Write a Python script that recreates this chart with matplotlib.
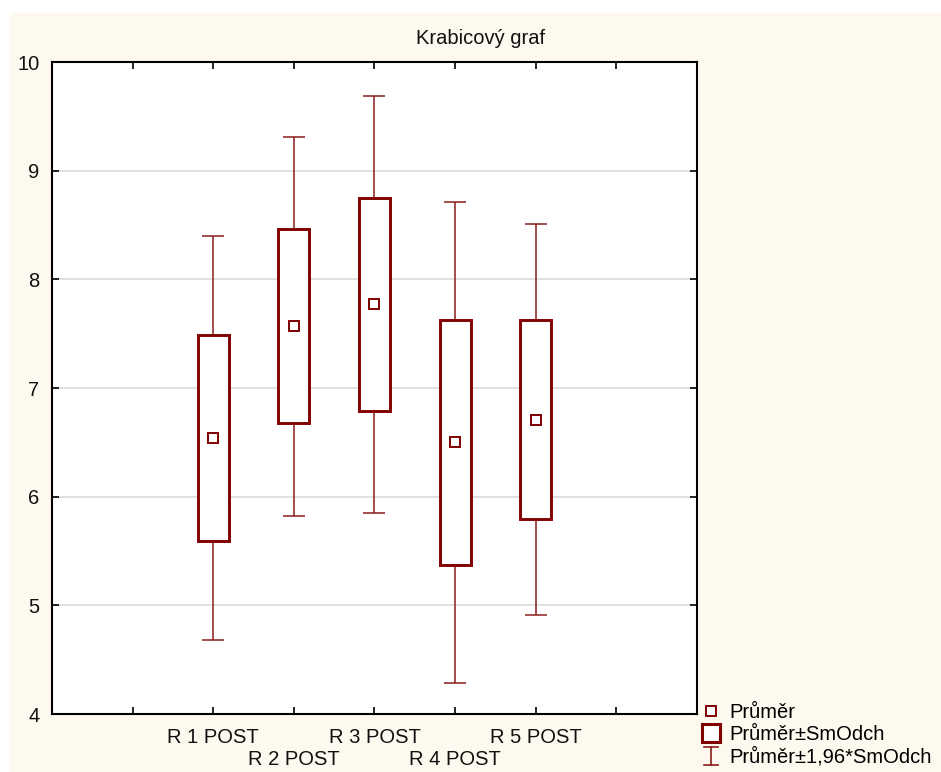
import numpy as np
import matplotlib
matplotlib.use('Agg')
import matplotlib.pyplot as plt
from matplotlib.lines import Line2D
from matplotlib.patches import Rectangle
from matplotlib.legend_handler import HandlerBase

plt.rcParams['font.family'] = ['Liberation Sans', 'DejaVu Sans']

# data
categories = ['R 1 POST', 'R 2 POST', 'R 3 POST', 'R 4 POST', 'R 5 POST']
means = np.array([6.54, 7.57, 7.77, 6.50, 6.71])
sds = np.array([0.95, 0.89, 0.98, 1.13, 0.92])
yticks = [4, 5, 6, 7, 8, 9, 10]

dark_red = '#800000'
whisk_red = '#8B1C1C'
x = np.arange(1, len(categories) + 1)


class HandlerIBar(HandlerBase):
    # vertical bar with caps, like the "I" symbol in the legend
    def create_artists(self, legend, orig_handle, xdescent, ydescent,
                       width, height, fontsize, trans):
        cx = width / 2 - xdescent
        cy = height / 2 - ydescent
        half = 6.5
        cap = 5.2
        kw = dict(color=whisk_red, lw=1.2, transform=trans)
        return [Line2D([cx, cx], [cy - half, cy + half], **kw),
                Line2D([cx - cap, cx + cap], [cy + half, cy + half], **kw),
                Line2D([cx - cap, cx + cap], [cy - half, cy - half], **kw)]


fig = plt.figure(figsize=(9.41, 7.72), dpi=100, facecolor='white')
# cream panel behind everything
fig.patches.append(Rectangle((10 / 941, 0), 1, 1 - 13 / 772, transform=fig.transFigure,
                             facecolor='#FEF9EE', edgecolor='none', zorder=-10))

ax = fig.add_axes([52 / 941, 58 / 772, 645 / 941, 652 / 772])
ax.set_zorder(1)
ax.set_facecolor('white')

# whiskers: mean +/- 1.96*SD
ax.errorbar(x, means, yerr=1.96 * sds, fmt='none', ecolor=whisk_red,
            elinewidth=1.1, capsize=8, capthick=1.1, zorder=2)
# boxes: mean +/- SD
ax.bar(x, 2 * sds, bottom=means - sds, width=0.385, color='white',
       edgecolor=dark_red, linewidth=2.1, zorder=3)
# means
ax.plot(x, means, ls='none', marker='s', ms=7.5, mfc='white', mec=dark_red,
        mew=1.4, zorder=4)

ax.set_xlim(-1, 7)
ax.set_ylim(4, 10)
ax.set_yticks(yticks)
ax.set_yticklabels([str(t) for t in yticks])
# labels alternate between two rows: odd categories on major ticks, even on minor
ax.xaxis.remove_overlapping_locs = False
ax.set_xticks([0, 1, 2, 3, 4, 5, 6])
ax.set_xticklabels(['', categories[0], '', categories[2], '', categories[4], ''])
ax.set_xticks([2, 4], minor=True)
ax.set_xticklabels([categories[1], categories[3]], minor=True)

for t in yticks[1:-1]:
    ax.axhline(t, color='#DADADA', lw=1.2, zorder=1)

ax.tick_params(axis='both', which='both', direction='in', length=5, width=1.2,
               color='black', top=True, right=True, labelsize=14.5,
               labelcolor='#111111')
ax.tick_params(axis='y', pad=9)
ax.tick_params(axis='x', which='major', pad=10)
ax.tick_params(axis='x', which='minor', pad=26, length=0)
for s in ax.spines.values():
    s.set_linewidth(1.5)
    s.set_color('black')

fig.text(481 / 941, 1 - 39 / 772, 'Krabicový graf', ha='center', va='center',
         fontsize=14.5, color='#111111')

# legend
h_mean = Line2D([], [], ls='none', marker='s', ms=7, mfc='white', mec=dark_red, mew=1.4)
h_box = Line2D([], [], ls='none', marker='s', ms=12.5, mfc='white', mec=dark_red, mew=2.2)
h_err = Line2D([], [])
fig.legend([h_mean, h_box, h_err],
           ['Průměr', 'Průměr±SmOdch', 'Průměr±1,96*SmOdch'],
           handler_map={h_err: HandlerIBar()},
           loc='lower left', bbox_to_anchor=(697 / 941, 1 / 772), frameon=False,
           fontsize=14.5, handlelength=1.0, handletextpad=0.4, labelspacing=0.15,
           borderpad=0.2, borderaxespad=0)

fig.savefig('out.png', dpi=100, facecolor='white')
